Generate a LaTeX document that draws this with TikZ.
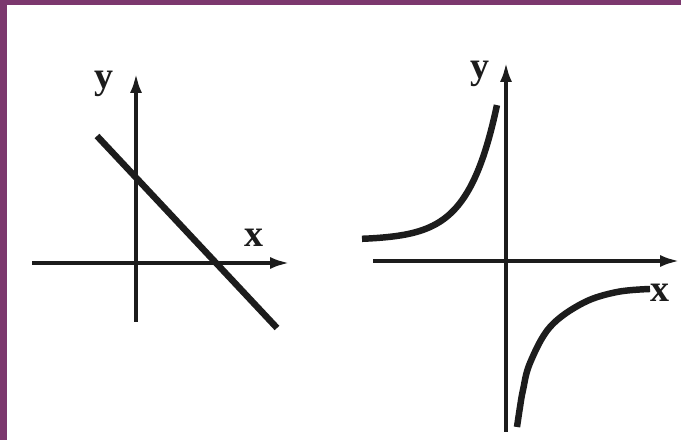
\documentclass[tikz,border=0pt]{standalone}
\usepackage{fontspec}
\newfontfamily\lblfont{Liberation Serif}
\usetikzlibrary{arrows.meta}
\definecolor{plum}{RGB}{124,56,110}
\definecolor{ink}{RGB}{28,28,28}

\begin{document}
\begin{tikzpicture}
\tikzset{
  AX/.style={-{Latex[length=5mm,width=3mm]},line width=2.8pt,ink},
  CV/.style={line width=4.6pt,ink},
  LB/.style={font=\lblfont\fontsize{27}{27}\selectfont\bfseries,text=ink,inner sep=0pt},
}
% frame
\fill[white](0,0)rectangle(17.025,11);
\fill[plum](0,0)rectangle(0.175,11);
\fill[plum](0,10.875)rectangle(17.025,11);
\useasboundingbox(0,0)rectangle(17.025,11);

% left graph: straight line
\coordinate(lxa) at (0.8,4.425);
\coordinate(lxb) at (7.25,4.425);
\coordinate(lya) at (3.4,2.95);
\coordinate(lyb) at (3.4,9.175);
\draw[AX](lxa)--(lxb);
\draw[AX](lya)--(lyb);
\coordinate(lla) at (2.425,7.6);
\coordinate(llb) at (6.925,2.8);
\draw[CV](lla)--(llb);
\node[LB](ly) at (2.61,8.9){y};
\node[LB](lx) at (6.35,5.06){x};

% right graph: two branches
\coordinate(rxa) at (9.325,4.475);
\coordinate(rxb) at (17.0,4.475);
\coordinate(rya) at (12.65,0.2);
\coordinate(ryb) at (12.65,9.45);
\draw[AX](rxa)--(rxb);
\draw[AX](rya)--(ryb);
\draw[CV] plot[domain=9.05:12.425,samples=60] (\x,{5+3.375*exp(1.4*(\x-12.425))});
\draw[CV] plot[smooth,tension=0.6] coordinates{(12.925,0.325)(13.0,0.825)(13.075,1.25)(13.25,1.925)
  (13.75,2.825)(14.575,3.425)(15.425,3.7)(16.25,3.775)};
\node[LB](ry) at (12.0,9.16){y};
\node[LB](rx) at (16.5,3.675){x};

\end{tikzpicture}
\end{document}
